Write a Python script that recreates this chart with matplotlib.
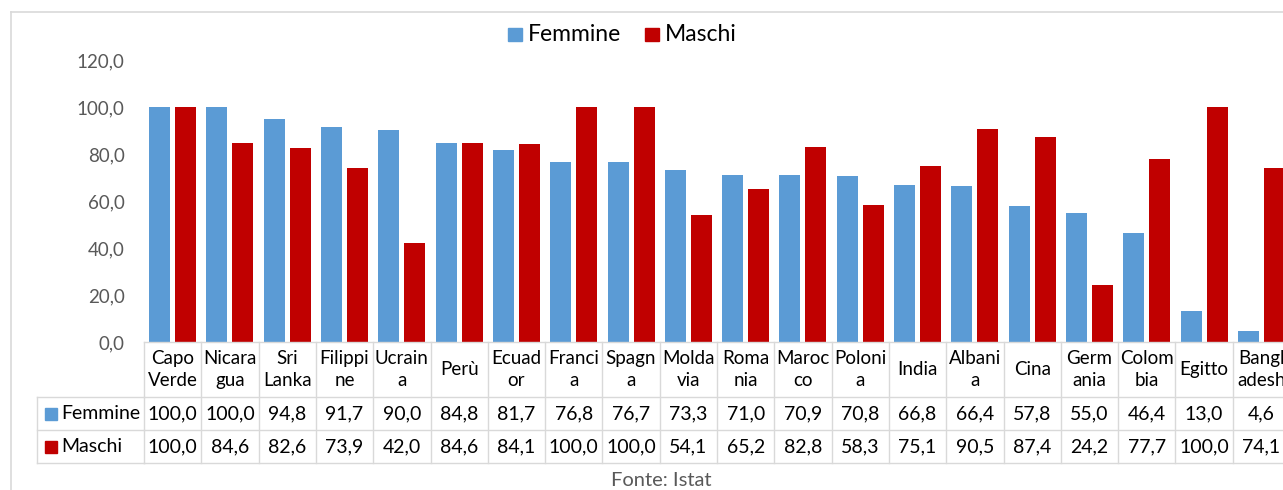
import matplotlib
matplotlib.use("Agg")
import matplotlib.pyplot as plt
import matplotlib.transforms as mtransforms
from matplotlib.lines import Line2D
from matplotlib.patches import Rectangle

categories = ["Capo Verde", "Nicaragua", "Sri Lanka", "Filippine", "Ucraina", "Perù",
              "Ecuador", "Francia", "Spagna", "Moldavia", "Romania", "Marocco", "Polonia",
              "India", "Albania", "Cina", "Germania", "Colombia", "Egitto", "Bangladesh"]
header_labels = ["Capo\nVerde", "Nicara\ngua", "Sri\nLanka", "Filippi\nne", "Ucrain\na", "Perù",
                 "Ecuad\nor", "Franci\na", "Spagn\na", "Molda\nvia", "Roma\nnia", "Maroc\nco",
                 "Poloni\na", "India", "Albani\na", "Cina", "Germ\nania", "Colom\nbia", "Egitto",
                 "Bangl\nadesh"]
femmine = [100.0, 100.0, 94.8, 91.7, 90.0, 84.8, 81.7, 76.8, 76.7, 73.3, 71.0, 70.9, 70.8,
           66.8, 66.4, 57.8, 55.0, 46.4, 13.0, 4.6]
maschi = [100.0, 84.6, 82.6, 73.9, 42.0, 84.6, 84.1, 100.0, 100.0, 54.1, 65.2, 82.8, 58.3,
          75.1, 90.5, 87.4, 24.2, 77.7, 100.0, 74.1]
series_names = ["Femmine", "Maschi"]
yticks = [0, 20, 40, 60, 80, 100, 120]
source = "Fonte: Istat"

BLUE = "#5B9BD5"
RED = "#C00000"
GRID = "#D9D9D9"
TXT = "#595959"
FONT = "Lato"

W, H = 1283, 490
fig = plt.figure(figsize=(W / 100, H / 100), dpi=100)
plt.rcParams['font.family'] = [FONT, 'DejaVu Sans']


def fx(px):
    return px / W


def fy(py):
    return (H - py) / H


# Plot area (extends beyond the right edge, as in the reference)
x0, x1 = 144, 1290
y_top, y_bot = 60, 342
ax = fig.add_axes([fx(x0), fy(y_bot), fx(x1 - x0), (y_bot - y_top) / H])
n = len(categories)
ax.set_xlim(0, n)
ax.set_ylim(0, 120)
for s in ax.spines.values():
    s.set_visible(False)
ax.set_xticks([])
ax.set_yticks(yticks)
ax.set_yticklabels([f"{v:.1f}".replace(".", ",") for v in yticks], color=TXT, fontsize=13.5)
ax.tick_params(axis="y", length=0, pad=14)

bw = 0.366
off = 0.227
xs = [i + 0.5 for i in range(n)]
ax.bar([x - off for x in xs], femmine, width=bw, color=BLUE, zorder=3)
ax.bar([x + off for x in xs], maschi, width=bw, color=RED, zorder=3)

# Outer chart frame
fig.add_artist(Line2D([fx(11), fx(W + 5)], [fy(12.5), fy(12.5)], color=GRID, lw=1.2,
                      transform=fig.transFigure))
fig.add_artist(Line2D([fx(11), fx(11)], [fy(12.5), fy(H + 5)], color=GRID, lw=1.2,
                      transform=fig.transFigure))

# Legend at top
leg_items = [(508, BLUE, series_names[0]), (645, RED, series_names[1])]
for lx, col, name in leg_items:
    fig.add_artist(Rectangle((fx(lx), fy(41)), fx(14), 13 / H, color=col,
                             transform=fig.transFigure))
    fig.text(fx(lx + 20), fy(34), name, fontsize=16.5, color="#000000", va="center", ha="left")

# Data table
trans = mtransforms.blended_transform_factory(ax.transData, fig.transFigure)
lab_left = 37
row_tops = [342, 397, 430, 463]
lw_t = 1.0
fig.add_artist(Line2D([0, n + 1], [fy(342), fy(342)], color=GRID, lw=lw_t, transform=trans,
                      clip_on=False))
for yy in row_tops[1:]:
    fig.add_artist(Line2D([fx(lab_left), fx(x0)], [fy(yy), fy(yy)], color=GRID, lw=lw_t,
                          transform=fig.transFigure))
    fig.add_artist(Line2D([0, n + 1], [fy(yy), fy(yy)], color=GRID, lw=lw_t, transform=trans,
                          clip_on=False))
fig.add_artist(Line2D([fx(lab_left), fx(lab_left)], [fy(397), fy(463)], color=GRID, lw=lw_t,
                      transform=fig.transFigure))
for i in range(n + 1):
    fig.add_artist(Line2D([i, i], [fy(342), fy(463)], color=GRID, lw=lw_t, transform=trans,
                          clip_on=False))

# header labels
for i, lab in enumerate(header_labels):
    fig.text(xs[i], fy(369.5), lab, transform=trans, ha="center", va="center", fontsize=13.5,
             color="#000000", linespacing=1.4)

# rows
rows = [(series_names[0], BLUE, femmine, 413.5), (series_names[1], RED, maschi, 446.5)]
for name, col, vals, yc in rows:
    fig.add_artist(Rectangle((fx(45), fy(yc + 6)), fx(12), 12 / H, color=col,
                             transform=fig.transFigure))
    fig.text(fx(61), fy(yc), name, fontsize=14, ha="left", va="center", color="#000000")
    for i, v in enumerate(vals):
        fig.text(xs[i], fy(yc), f"{v:.1f}".replace(".", ","), transform=trans, ha="center",
                 va="center", fontsize=14, color="#000000")

fig.text(fx(661), fy(480), source, fontsize=14.5, color=TXT, ha="center", va="center")

fig.savefig("out.png", dpi=100)
